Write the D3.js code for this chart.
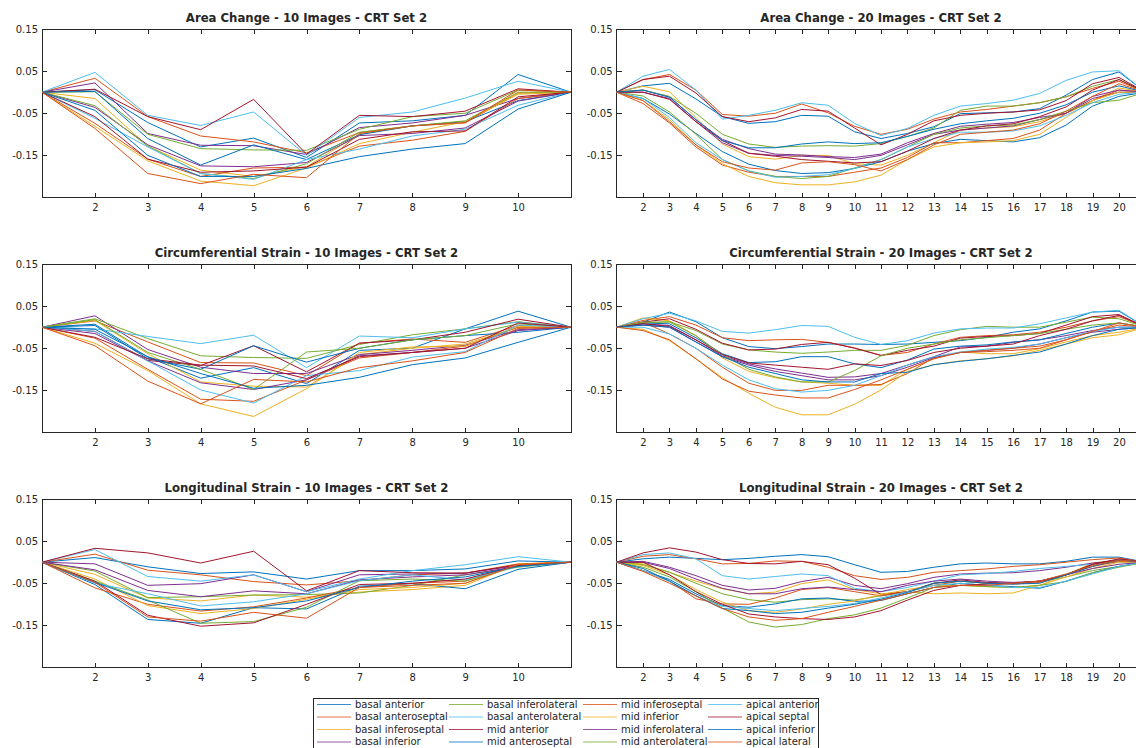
<!DOCTYPE html>
<html>
<head>
<meta charset="utf-8">
<script src="https://cdn.jsdelivr.net/npm/d3@7"></script>
<style>
  body { margin: 0; background: #fff; }
  svg { display: block; }
  text { font-family: "DejaVu Sans", sans-serif; fill: #262626; }
</style>
</head>
<body>
<svg id="fig" width="1136" height="748"></svg>
<script>
// Segment names, in legend order
const segmentNames = [
  "basal anterior", "basal anteroseptal", "basal inferoseptal", "basal inferior",
  "basal inferolateral", "basal anterolateral", "mid anterior", "mid anteroseptal",
  "mid inferoseptal", "mid inferior", "mid inferolateral", "mid anterolateral",
  "apical anterior", "apical septal", "apical inferior", "apical lateral"
];

// Line colour cycle
const lineColors = ["#0072BD", "#D95319", "#EDB120", "#7E2F8E", "#77AC30", "#4DBEEE", "#A2142F"];

// Y tick values shared by all panels
const yTickValues = [0.15, 0.05, -0.05, -0.15];

// Area change, 10 frames (frames 1..11)
const areaChange10 = [
  [0, .006, -.072, -.130, -.109, -.155, -.073, -.068, -.055, .042, 0],
  [0, .033, -.058, -.104, -.118, -.144, -.096, -.080, -.073, -.002, 0],
  [0, -.015, -.128, -.185, -.200, -.177, -.100, -.080, -.070, -.002, 0],
  [0, .022, -.098, -.126, -.127, -.148, -.084, -.073, -.055, -.015, 0],
  [0, .001, -.100, -.134, -.137, -.138, -.088, -.058, -.050, .005, 0],
  [0, .047, -.055, -.079, -.047, -.150, -.060, -.047, -.014, .026, 0],
  [0, .007, -.058, -.089, -.017, -.147, -.055, -.058, -.045, .008, 0],
  [0, .002, -.110, -.173, -.125, -.160, -.101, -.080, -.070, -.020, 0],
  [0, -.074, -.159, -.200, -.180, -.178, -.128, -.114, -.093, -.015, 0],
  [0, -.081, -.163, -.211, -.222, -.180, -.122, -.095, -.070, -.005, 0],
  [0, -.036, -.125, -.175, -.177, -.167, -.103, -.098, -.085, -.021, 0],
  [0, -.032, -.128, -.193, -.205, -.170, -.095, -.080, -.068, .000, 0],
  [0, -.062, -.130, -.193, -.207, -.160, -.135, -.104, -.088, -.031, 0],
  [0, -.058, -.159, -.190, -.187, -.178, -.112, -.094, -.092, -.011, 0],
  [0, -.043, -.150, -.200, -.200, -.181, -.153, -.135, -.122, -.040, 0],
  [0, -.086, -.193, -.217, -.195, -.203, -.098, -.080, -.072, .005, 0]
];

// Area change, 20 frames (frames 1..21)
const areaChange20 = [
  [0, .015, .021, -.016, -.058, -.074, -.070, -.055, -.057, -.094, -.110, -.098, -.082, -.051, -.049, -.047, -.039, -.007, .030, .048, 0],
  [0, .030, .042, .005, -.053, -.057, -.050, -.028, -.049, -.081, -.100, -.088, -.064, -.047, -.041, -.033, -.025, -.011, .009, .026, 0],
  [0, .014, .001, -.060, -.123, -.153, -.159, -.150, -.150, -.170, -.173, -.150, -.120, -.090, -.085, -.082, -.070, -.050, -.020, .010, 0],
  [0, .005, -.011, -.066, -.112, -.134, -.147, -.149, -.153, -.155, -.147, -.120, -.098, -.081, -.076, -.072, -.060, -.050, -.015, .000, 0],
  [0, .005, -.010, -.050, -.100, -.123, -.131, -.128, -.127, -.128, -.122, -.105, -.085, -.043, -.033, -.033, -.025, -.011, .014, .030, 0],
  [0, .038, .054, .005, -.064, -.055, -.043, -.025, -.031, -.074, -.103, -.086, -.055, -.033, -.027, -.019, -.003, .028, .048, .051, 0],
  [0, .030, .038, -.002, -.058, -.070, -.061, -.041, -.045, -.085, -.125, -.100, -.068, -.055, -.050, -.047, -.042, -.020, .020, .035, 0],
  [0, -.015, -.052, -.098, -.141, -.171, -.186, -.193, -.191, -.181, -.165, -.140, -.122, -.112, -.115, -.118, -.108, -.078, -.033, -.010, 0],
  [0, -.027, -.073, -.130, -.173, -.190, -.200, -.200, -.200, -.190, -.180, -.155, -.120, -.120, -.115, -.110, -.090, -.050, -.020, .005, 0],
  [0, -.020, -.065, -.125, -.170, -.200, -.215, -.220, -.220, -.213, -.197, -.160, -.130, -.120, -.118, -.115, -.100, -.060, -.020, .000, 0],
  [0, .000, -.015, -.070, -.120, -.145, -.150, -.152, -.155, -.160, -.150, -.125, -.100, -.090, -.085, -.080, -.065, -.050, -.010, .005, 0],
  [0, -.009, -.047, -.100, -.160, -.187, -.200, -.205, -.200, -.180, -.160, -.130, -.100, -.085, -.080, -.078, -.065, -.045, -.025, -.019, 0],
  [0, -.015, -.060, -.120, -.160, -.187, -.202, -.200, -.196, -.181, -.160, -.130, -.110, -.095, -.095, -.092, -.080, -.055, -.025, -.005, 0],
  [0, .000, -.017, -.070, -.115, -.145, -.152, -.160, -.164, -.168, -.165, -.140, -.110, -.090, -.080, -.075, -.058, -.035, .005, .030, 0],
  [0, .005, -.012, -.065, -.115, -.132, -.132, -.123, -.118, -.122, -.120, -.105, -.088, -.075, -.068, -.062, -.050, -.030, .000, .015, 0],
  [0, -.020, -.070, -.125, -.165, -.180, -.185, -.168, -.165, -.172, -.187, -.160, -.125, -.100, -.095, -.090, -.075, -.045, -.010, .020, 0]
];

// Circumferential strain, 10 frames
const circStrain10 = [
  [0, .007, -.071, -.121, -.096, -.134, -.055, -.050, -.004, .038, 0],
  [0, .015, -.035, -.084, -.085, -.115, -.038, -.028, -.036, .004, 0],
  [0, .016, -.063, -.130, -.140, -.142, -.065, -.050, -.040, .000, 0],
  [0, .027, -.053, -.095, -.110, -.110, -.065, -.055, -.043, -.006, 0],
  [0, .020, -.027, -.068, -.072, -.074, -.041, -.018, -.004, .013, 0],
  [0, -.004, -.022, -.039, -.019, -.096, -.021, -.025, -.004, .012, 0],
  [0, -.010, -.079, -.091, -.044, -.106, -.038, -.030, -.012, .019, 0],
  [0, .004, -.075, -.100, -.044, -.083, -.050, -.030, -.020, -.012, 0],
  [0, -.026, -.100, -.171, -.176, -.125, -.073, -.060, -.045, .000, 0],
  [0, -.038, -.103, -.182, -.212, -.146, -.060, -.047, -.045, .002, 0],
  [0, -.015, -.080, -.132, -.148, -.125, -.068, -.060, -.050, -.008, 0],
  [0, .018, -.060, -.100, -.148, -.059, -.050, -.030, -.020, .008, 0],
  [0, -.010, -.080, -.149, -.180, -.115, -.103, -.071, -.058, .005, 0],
  [0, -.024, -.075, -.090, -.092, -.122, -.070, -.060, -.050, .010, 0],
  [0, -.005, -.070, -.110, -.145, -.138, -.119, -.089, -.073, -.036, 0],
  [0, -.044, -.128, -.182, -.124, -.130, -.096, -.080, -.060, -.003, 0]
];

// Circumferential strain, 20 frames
const circStrain20 = [
  [0, .012, .036, .013, -.025, -.046, -.051, -.046, -.040, -.040, -.041, -.040, -.036, -.032, -.024, -.012, -.004, .015, .036, .038, 0],
  [0, .016, .025, .005, -.025, -.032, -.030, -.029, -.036, -.049, -.067, -.060, -.040, -.024, -.020, -.018, -.012, .000, .015, .025, 0],
  [0, .022, .015, -.020, -.073, -.105, -.120, -.130, -.133, -.138, -.138, -.100, -.075, -.059, -.063, -.063, -.051, -.035, -.020, -.012, 0],
  [0, .008, .004, -.030, -.068, -.087, -.099, -.109, -.119, -.118, -.110, -.090, -.070, -.047, -.045, -.036, -.030, -.020, -.008, .000, 0],
  [0, .010, .013, -.008, -.040, -.054, -.059, -.062, -.059, -.055, -.055, -.043, -.020, -.006, .002, .000, .000, .012, .024, .020, 0],
  [0, .020, .033, .015, -.010, -.014, -.006, .004, .002, -.024, -.041, -.032, -.014, -.004, -.002, -.002, .008, .022, .036, .040, 0],
  [0, .012, .020, -.005, -.038, -.054, -.052, -.041, -.036, -.050, -.067, -.055, -.045, -.026, -.022, -.020, -.015, .005, .025, .030, 0],
  [0, .010, .008, -.025, -.063, -.084, -.082, -.070, -.070, -.087, -.096, -.078, -.052, -.045, -.042, -.035, -.030, -.015, .000, .010, 0],
  [0, .012, -.016, -.050, -.095, -.133, -.150, -.150, -.138, -.138, -.136, -.110, -.072, -.060, -.058, -.055, -.050, -.030, -.010, .005, 0],
  [0, -.005, -.032, -.075, -.120, -.157, -.190, -.208, -.208, -.183, -.149, -.105, -.089, -.080, -.075, -.068, -.055, -.040, -.025, -.018, 0],
  [0, .005, .000, -.035, -.070, -.090, -.105, -.115, -.125, -.125, -.115, -.095, -.072, -.060, -.055, -.050, -.040, -.025, -.012, -.005, 0],
  [0, .012, .012, -.020, -.065, -.100, -.118, -.130, -.130, -.103, -.068, -.050, -.040, -.030, -.025, -.020, -.015, -.005, .005, .010, 0],
  [0, .000, -.016, -.050, -.090, -.125, -.146, -.154, -.150, -.138, -.115, -.090, -.070, -.059, -.052, -.048, -.040, -.025, -.010, .000, 0],
  [0, .008, .002, -.030, -.065, -.085, -.090, -.095, -.100, -.087, -.091, -.079, -.060, -.050, -.045, -.040, -.020, -.005, .015, .028, 0],
  [0, .005, .000, -.035, -.070, -.095, -.110, -.125, -.130, -.130, -.110, -.107, -.089, -.081, -.075, -.067, -.059, -.040, -.020, -.005, 0],
  [0, -.008, -.030, -.075, -.123, -.152, -.161, -.168, -.168, -.148, -.125, -.100, -.075, -.060, -.055, -.050, -.045, -.030, -.010, .010, 0]
];

// Longitudinal strain, 10 frames
const longStrain10 = [
  [0, .011, -.011, -.027, -.023, -.040, -.020, -.020, -.016, .003, 0],
  [0, .019, -.019, -.030, -.046, -.054, -.044, -.030, -.026, -.004, 0],
  [0, -.029, -.085, -.092, -.078, -.083, -.071, -.065, -.055, -.004, 0],
  [0, -.004, -.055, -.051, -.030, -.070, -.030, -.028, -.026, -.008, 0],
  [0, -.021, -.084, -.082, -.078, -.077, -.073, -.055, -.030, -.012, 0],
  [0, .030, -.034, -.045, -.030, -.070, -.040, -.020, -.006, .013, 0],
  [0, .033, .022, -.002, .026, -.068, -.020, -.025, -.026, -.006, 0],
  [0, -.053, -.136, -.145, -.108, -.111, -.057, -.051, -.063, -.017, 0],
  [0, -.061, -.100, -.116, -.106, -.085, -.060, -.050, -.045, -.005, 0],
  [0, -.040, -.103, -.122, -.110, -.088, -.065, -.060, -.050, -.006, 0],
  [0, -.018, -.067, -.082, -.068, -.075, -.042, -.035, -.030, -.010, 0],
  [0, -.045, -.090, -.145, -.141, -.107, -.044, -.040, -.045, -.010, 0],
  [0, -.050, -.075, -.104, -.094, -.075, -.044, -.030, -.042, -.010, 0],
  [0, -.045, -.126, -.152, -.144, -.100, -.053, -.050, -.040, -.008, 0],
  [0, -.048, -.092, -.113, -.108, -.092, -.060, -.045, -.035, -.010, 0],
  [0, -.048, -.130, -.140, -.119, -.133, -.060, -.055, -.050, -.006, 0]
];

// Longitudinal strain, 20 frames
const longStrain20 = [
  [0, .008, .012, .009, .006, .009, .014, .018, .013, -.006, -.024, -.022, -.012, -.004, -.002, -.004, -.004, .002, .012, .012, 0],
  [0, .014, .018, .008, -.004, -.003, .003, .002, -.012, -.032, -.041, -.036, -.024, -.020, -.016, -.010, -.006, .000, .006, .010, 0],
  [0, -.004, -.024, -.045, -.063, -.075, -.071, -.051, -.042, -.065, -.075, -.070, -.075, -.073, -.075, -.073, -.055, -.030, -.002, .005, 0],
  [0, .002, -.012, -.032, -.055, -.066, -.062, -.046, -.036, -.055, -.063, -.051, -.036, -.028, -.026, -.025, -.020, -.012, -.002, .004, 0],
  [0, -.006, -.024, -.050, -.075, -.089, -.095, -.089, -.087, -.090, -.080, -.070, -.050, -.045, -.050, -.050, -.046, -.035, -.020, -.010, 0],
  [0, .018, .022, .008, -.032, -.040, -.034, -.028, -.032, -.062, -.070, -.060, -.045, -.030, -.027, -.022, -.015, -.010, -.005, .000, 0],
  [0, .022, .034, .024, .006, -.003, -.004, .002, -.006, -.038, -.077, -.070, -.050, -.042, -.048, -.050, -.045, -.030, -.005, .006, 0],
  [0, -.020, -.041, -.075, -.103, -.107, -.099, -.087, -.085, -.093, -.091, -.075, -.060, -.050, -.055, -.058, -.062, -.045, -.025, -.010, 0],
  [0, -.020, -.045, -.087, -.099, -.100, -.085, -.065, -.060, -.070, -.080, -.070, -.055, -.045, -.050, -.052, -.048, -.030, -.010, .002, 0],
  [0, -.008, -.030, -.065, -.095, -.115, -.119, -.111, -.100, -.092, -.077, -.065, -.055, -.055, -.058, -.060, -.055, -.035, -.015, .000, 0],
  [0, .000, -.015, -.040, -.062, -.075, -.075, -.063, -.059, -.065, -.070, -.055, -.045, -.040, -.045, -.048, -.045, -.030, -.015, -.005, 0],
  [0, -.012, -.035, -.070, -.109, -.142, -.154, -.148, -.134, -.125, -.109, -.085, -.060, -.055, -.058, -.060, -.055, -.046, -.025, -.012, 0],
  [0, -.020, -.045, -.080, -.105, -.110, -.115, -.110, -.105, -.098, -.085, -.070, -.055, -.050, -.055, -.060, -.060, -.045, -.028, -.010, 0],
  [0, .000, -.030, -.070, -.100, -.123, -.130, -.134, -.136, -.130, -.115, -.090, -.067, -.055, -.052, -.050, -.045, -.030, -.005, .008, 0],
  [0, -.015, -.045, -.080, -.110, -.115, -.122, -.119, -.109, -.100, -.088, -.072, -.050, -.045, -.050, -.052, -.050, -.030, -.010, .005, 0],
  [0, -.022, -.050, -.080, -.110, -.130, -.138, -.134, -.119, -.105, -.090, -.075, -.060, -.055, -.055, -.050, -.045, -.028, -.008, .005, 0]
];

const panelTitles = [
  "Area Change - 10 Images - CRT Set 2", "Area Change - 20 Images - CRT Set 2",
  "Circumferential Strain - 10 Images - CRT Set 2", "Circumferential Strain - 20 Images - CRT Set 2",
  "Longitudinal Strain - 10 Images - CRT Set 2", "Longitudinal Strain - 20 Images - CRT Set 2"
];
const panelData = [areaChange10, areaChange20, circStrain10, circStrain20, longStrain10, longStrain20];

// ---- layout ----
const svg = d3.select("#fig");
const axisColor = "#262626";
const rowTops = [29, 264, 499];
const plotHeight = 168.5;
const colRanges = [[42, 571], [616.6, 1145.4]];
const tickLen = 5;

panelData.forEach((series, p) => {
  const row = Math.floor(p / 2), col = p % 2;
  const nFrames = series[0].length;
  const top = rowTops[row], bottom = top + plotHeight;
  const [left, right] = colRanges[col];

  const x = d3.scaleLinear().domain([1, nFrames]).range([left, right]);
  const y = d3.scaleLinear().domain([-0.25, 0.15]).range([bottom, top]);
  const xTicks = d3.range(2, nFrames);

  const g = svg.append("g");

  // frame box
  g.append("rect")
    .attr("x", left).attr("y", top)
    .attr("width", right - left).attr("height", bottom - top)
    .attr("fill", "none").attr("stroke", axisColor).attr("stroke-width", 1)
    .attr("shape-rendering", "crispEdges");

  const styleAxis = sel => {
    sel.select(".domain").remove();
    sel.selectAll(".tick line").attr("stroke", axisColor).attr("shape-rendering", "crispEdges");
    sel.selectAll(".tick text").attr("font-size", 10).attr("font-family", "DejaVu Sans, sans-serif").attr("fill", axisColor);
  };

  g.append("g").attr("transform", `translate(0,${bottom})`)
    .call(d3.axisBottom(x).tickValues(xTicks).tickSize(-tickLen).tickPadding(6).tickFormat(d3.format("d")))
    .call(styleAxis);
  g.append("g").attr("transform", `translate(0,${top})`)
    .call(d3.axisTop(x).tickValues(xTicks).tickSize(-tickLen).tickFormat(""))
    .call(styleAxis);
  g.append("g").attr("transform", `translate(${left},0)`)
    .call(d3.axisLeft(y).tickValues(yTickValues).tickSize(-tickLen).tickPadding(4).tickFormat(v => v.toFixed(2)))
    .call(styleAxis);
  g.append("g").attr("transform", `translate(${right},0)`)
    .call(d3.axisRight(y).tickValues(yTickValues).tickSize(-tickLen).tickFormat(""))
    .call(styleAxis);

  // segment curves
  const line = d3.line().x((d, i) => x(i + 1)).y(d => y(d));
  g.append("g").selectAll("path")
    .data(series)
    .join("path")
    .attr("d", line)
    .attr("fill", "none")
    .attr("stroke", (d, i) => lineColors[i % lineColors.length])
    .attr("stroke-width", 1)
    .attr("stroke-linejoin", "round");

  // title
  svg.append("text")
    .attr("x", (left + right) / 2).attr("y", top - 7)
    .attr("text-anchor", "middle")
    .attr("font-size", 11.7).attr("font-weight", "bold")
    .text(panelTitles[p]);
});

// ---- legend ----
const legendCols = [317, 449, 583, 708];
const legendRows = [704.5, 717, 729.5, 742];
const legend = svg.append("g");
legend.append("rect")
  .attr("x", 313.5).attr("y", 698.5).attr("width", 505).attr("height", 60)
  .attr("fill", "#fff").attr("stroke", axisColor).attr("stroke-width", 1);
segmentNames.forEach((name, i) => {
  const cx = legendCols[Math.floor(i / 4)], cy = legendRows[i % 4];
  legend.append("line")
    .attr("x1", cx).attr("x2", cx + 34).attr("y1", cy).attr("y2", cy)
    .attr("stroke", lineColors[i % lineColors.length]).attr("stroke-width", 1.2)
    .attr("stroke-opacity", 0.8);
  legend.append("text")
    .attr("x", cx + 38).attr("y", cy + 3.3)
    .attr("font-size", 10)
    .text(name);
});
</script>
</body>
</html>
